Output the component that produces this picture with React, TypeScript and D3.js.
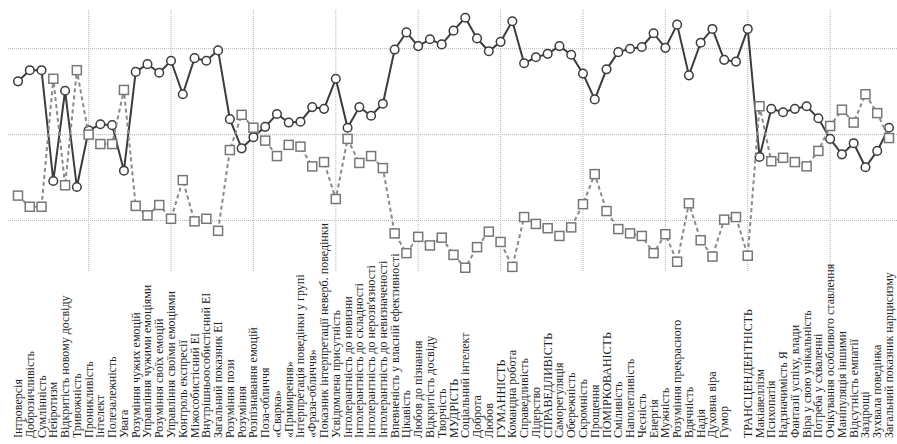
import React from "react";
import * as d3 from "d3";

const categories: string[] = [
  "Інтроверсія",
  "Доброзичливість",
  "Сумлінність",
  "Нейротизм",
  "Відкритість новому досвіду",
  "Тривожність",
  "Проникливість",
  "Інтелект",
  "Полезалежність",
  "Увага",
  "Розуміння чужих емоцій",
  "Управління чужими емоціями",
  "Розуміння своїх емоцій",
  "Управління своїми емоціями",
  "Контроль експресії",
  "Міжособистісний ЕІ",
  "Внутрішньоособистісний ЕІ",
  "Загальний показник ЕІ",
  "Розуміння пози",
  "Розуміння",
  "Розпізнавання емоцій",
  "Поза-обличчя",
  "«Сварка»",
  "«Примирення»",
  "Інтерпретація поведінки у групі",
  "«Фраза-обличчя»",
  "Показник інтерпретації неверб. поведінки",
  "Усвідомлена присутність",
  "Інтолерантність до новизни",
  "Інтолерантність до складності",
  "Інтолерантність до нерозв'язності",
  "Інтолерантність до невизначеності",
  "Впевненість у власній ефективності",
  "Цікавість",
  "Любов до пізнання",
  "Відкритість досвіду",
  "Творчість",
  "МУДРІСТЬ",
  "Соціальний інтелект",
  "Доброта",
  "Любов",
  "ГУМАННІСТЬ",
  "Командна робота",
  "Справедливість",
  "Лідерство",
  "СПРАВЕДЛИВІСТЬ",
  "Саморегуляція",
  "Обережність",
  "Скромність",
  "Прощення",
  "ПОМІРКОВАНІСТЬ",
  "Сміливість",
  "Наполегливість",
  "Чесність",
  "Енергія",
  "Мужність",
  "Розуміння прекрасного",
  "Вдячність",
  "Надія",
  "Духовна віра",
  "Гумор",
  "",
  "ТРАНСЦЕНДЕНТНІСТЬ",
  "Макіавеллізм",
  "Психопатія",
  "Надзначимість Я",
  "Фантазії успіху, влади",
  "Віра у свою унікальність",
  "Потреба у схваленні",
  "Очікування особливого ставлення",
  "Маніпуляція іншими",
  "Відсутність емпатії",
  "Заздрощі",
  "Зухвала поведінка",
  "Загальний показник нарцисизму",
];

const seriesSolid: number[] = [
  56.2, 57.5, 57.5, 44.6, 55.1, 43.9, 50.5, 51.2, 51.1, 45.8,
  57.3, 58.2, 57.2, 58.6, 54.7, 58.9, 58.6, 59.8, 51.8, 48.4,
  49.7, 50.9, 52.4, 51.4, 51.5, 53.2, 53.0, 56.5, 50.8, 53.2,
  52.2, 53.6, 59.9, 61.9, 60.3, 61.1, 60.5, 62.1, 63.6, 61.2,
  59.7, 60.8, 63.2, 58.3, 59.0, 59.4, 60.3, 59.3, 57.1, 54.1,
  57.6, 59.6, 60.0, 60.2, 61.8, 60.1, 62.8, 56.9, 60.7, 62.3,
  58.7, 58.5, 62.3, 47.4, 53.0, 52.6, 53.0, 53.3, 51.9, 49.5,
  47.7, 49.0, 46.2, 48.1, 50.8,
];

const seriesDashed: number[] = [
  42.9, 41.6, 41.6, 56.5, 44.1, 57.5, 50.0, 48.9, 48.9, 55.2,
  41.7, 40.6, 41.8, 40.2, 44.7, 39.9, 40.2, 38.8, 48.2, 52.3,
  50.8, 49.3, 47.5, 48.8, 48.6, 46.3, 46.8, 42.5, 49.5, 46.7,
  47.5, 46.1, 38.5, 36.2, 38.1, 37.1, 38.0, 36.0, 34.5, 36.9,
  38.7, 37.5, 34.6, 40.4, 39.6, 39.1, 38.2, 39.2, 41.9, 45.4,
  41.1, 39.0, 38.5, 38.2, 36.2, 38.4, 35.2, 42.0, 37.7, 35.8,
  40.1, 40.4, 35.9, 53.3, 46.9, 47.3, 46.8, 46.3, 48.1, 51.0,
  52.9, 51.4, 54.7, 52.5, 49.6,
];

const yGridValues: number[] = [40, 50, 60];
const verticalGridEvery = 7;
const verticalGridStart = 6;

const W = 897;
const H = 444;

export default function App() {
  const idx = d3.range(seriesSolid.length);
  const x = d3
    .scaleLinear()
    .domain([0, seriesSolid.length - 1])
    .range([18, 889]);
  const y = d3.scaleLinear().domain([40, 60]).range([220.5, 48.7]);

  const line = d3
    .line<number>()
    .x((_, i) => x(i))
    .y((d) => y(d));

  const vGrid = idx.filter(
    (i) => i >= verticalGridStart && (i - verticalGridStart) % verticalGridEvery === 0
  );

  const solidColor = "#3c3c3c";
  const dashColor = "#8a8a8a";
  const sq = 9;

  return (
    <svg
      width={W}
      height={H}
      style={{ position: "absolute", left: 0, top: 0, background: "#fff" }}
      fontFamily="'Liberation Serif', 'Times New Roman', serif"
    >
      <g stroke="#b5b5b5" strokeWidth={1} strokeDasharray="1,1" fill="none">
        {yGridValues.map((v) => (
          <line key={"h" + v} x1={8} x2={W} y1={y(v)} y2={y(v)} />
        ))}
        {vGrid.map((i) => (
          <line key={"v" + i} x1={x(i)} x2={x(i)} y1={10} y2={272} />
        ))}
      </g>

      <path d={line(seriesSolid) || ""} fill="none" stroke={solidColor} strokeWidth={2} />
      {seriesSolid.map((d, i) => (
        <circle
          key={"c" + i}
          cx={x(i)}
          cy={y(d)}
          r={4.3}
          fill="#fff"
          stroke={solidColor}
          strokeWidth={1.5}
        />
      ))}

      <path
        d={line(seriesDashed) || ""}
        fill="none"
        stroke={dashColor}
        strokeWidth={2}
        strokeDasharray="4,3"
      />
      {seriesDashed.map((d, i) => (
        <rect
          key={"s" + i}
          x={x(i) - sq / 2}
          y={y(d) - sq / 2}
          width={sq}
          height={sq}
          fill="#fff"
          stroke={"#777"}
          strokeWidth={1.5}
        />
      ))}

      <g fontSize={12} fill="#1e1e1e">
        {categories.map((c, i) => (
          <text
            key={"t" + i}
            transform={`translate(${x(i) + 4},438) rotate(-90)`}
            textAnchor="start"
          >
            {c}
          </text>
        ))}
      </g>
    </svg>
  );
}
